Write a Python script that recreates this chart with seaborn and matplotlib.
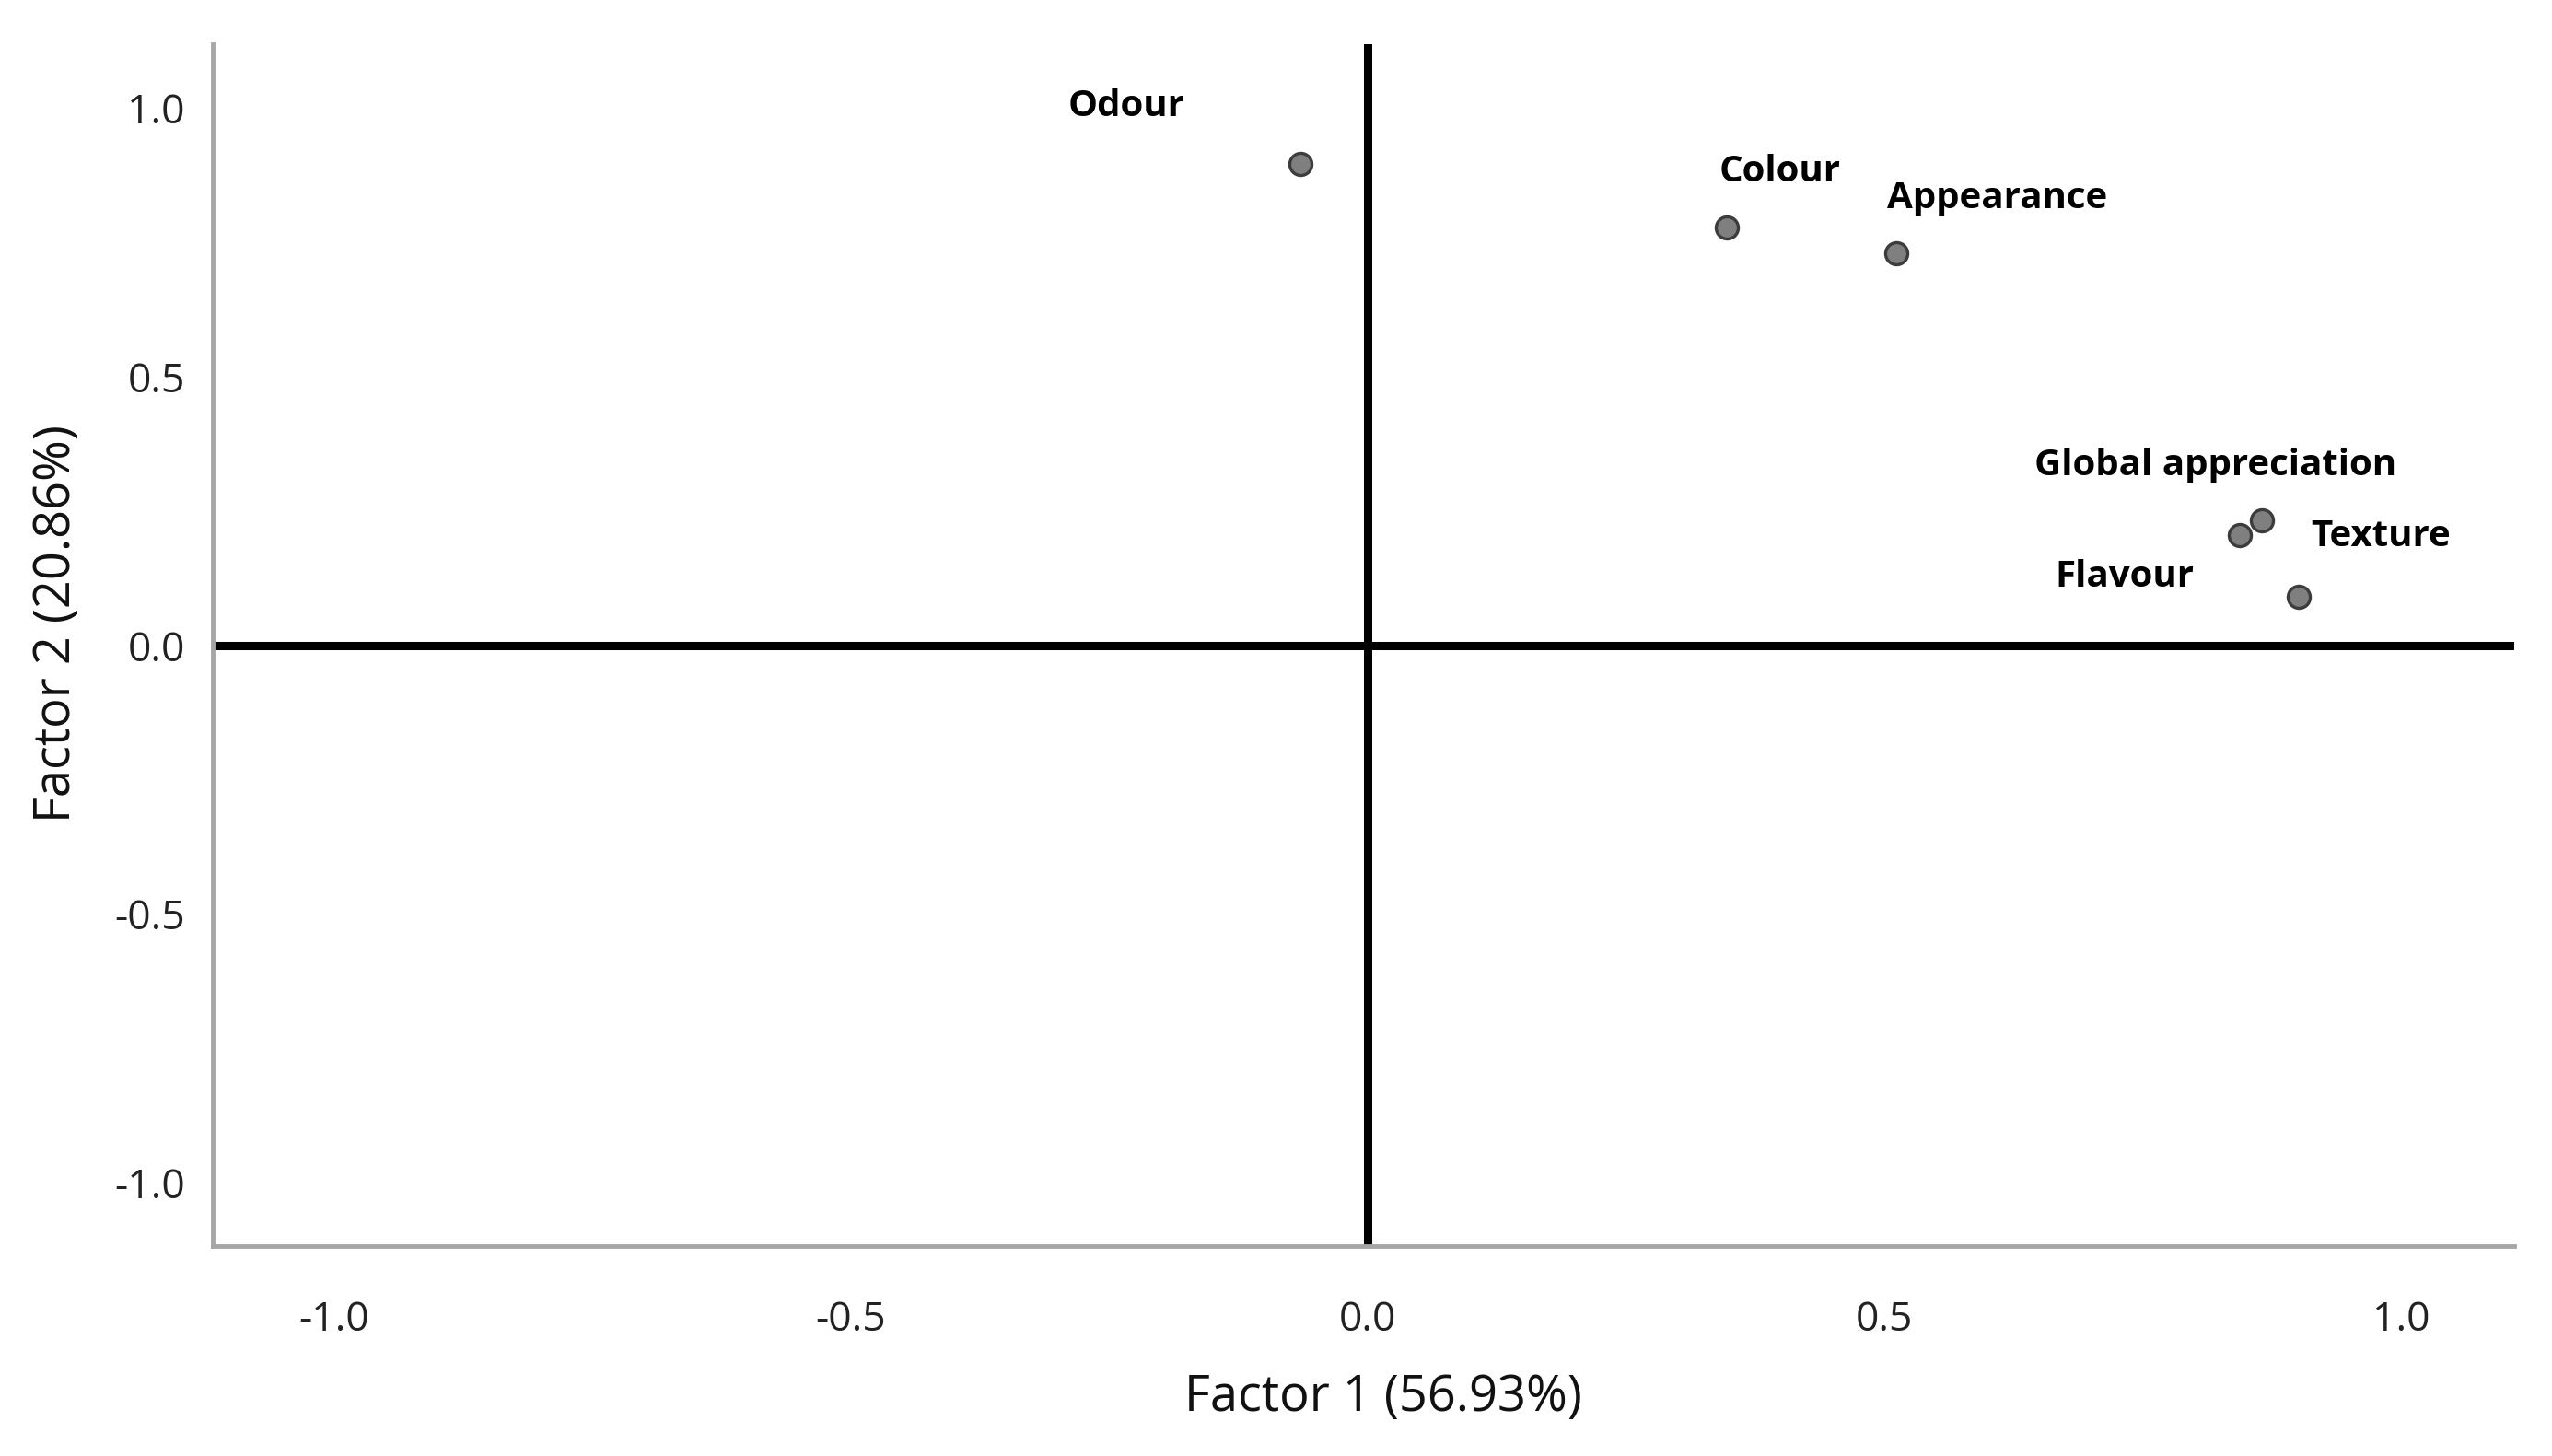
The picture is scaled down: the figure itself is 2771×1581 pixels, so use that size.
import pandas as pd
import matplotlib
matplotlib.use("Agg")
import matplotlib.pyplot as plt
import seaborn as sns

# Factor loadings
attributes = ["Odour", "Colour", "Appearance", "Global appreciation", "Flavour", "Texture"]
factor1 = [-0.065, 0.348, 0.512, 0.866, 0.844, 0.901]
factor2 = [0.897, 0.779, 0.730, 0.233, 0.206, 0.091]

ticks = [-1.0, -0.5, 0.0, 0.5, 1.0]
tick_labels = ["-1.0", "-0.5", "0.0", "0.5", "1.0"]

# label offsets (points) relative to each marker
label_offsets = {
    "Odour": (-136, 45),
    "Colour": (41, 43),
    "Appearance": (79, 43),
    "Global appreciation": (-37, 43),
    "Flavour": (-90, -33),
    "Texture": (64, 47),
}

df = pd.DataFrame({"attribute": attributes, "f1": factor1, "f2": factor2})

sns.set_theme(style="white")
plt.rcParams["font.family"] = ["Open Sans", "DejaVu Sans"]

fig = plt.figure(figsize=(27.71, 15.81), dpi=100)
ax = fig.add_axes([0.0835, 0.1441, 0.9018, 0.8257])

ax.axhline(0, color="black", lw=6.5, zorder=1)
ax.axvline(0, color="black", lw=6.5, zorder=1)

sns.scatterplot(
    data=df, x="f1", y="f2", ax=ax,
    s=300, color="#7f7f7f", edgecolor="#3c3c3c", linewidth=2.4, zorder=3,
)

for _, row in df.iterrows():
    ax.annotate(
        row["attribute"], (row["f1"], row["f2"]),
        xytext=label_offsets[row["attribute"]], textcoords="offset points",
        ha="center", va="center", fontsize=29, fontweight="bold", color="black",
    )

ax.set_xlim(-1.117, 1.11)
ax.set_ylim(-1.118, 1.12)
ax.set_xticks(ticks)
ax.set_xticklabels(tick_labels)
ax.set_yticks(ticks)
ax.set_yticklabels(tick_labels)
ax.tick_params(axis="x", length=0, pad=42, labelsize=32, labelcolor="#222222")
ax.tick_params(axis="y", length=0, pad=22, labelsize=32, labelcolor="#222222")

ax.set_xlabel("Factor 1 (56.93%)", fontsize=39, color="#111111")
ax.set_ylabel("Factor 2 (20.86%)", fontsize=39, color="#111111")
ax.xaxis.set_label_coords(0.5085, -0.105)
ax.yaxis.set_label_coords(-0.057, 0.518)

sns.despine(ax=ax)
for side in ["left", "bottom"]:
    ax.spines[side].set_color("#a6a6a6")
    ax.spines[side].set_linewidth(3.5)

fig.savefig("out.png", dpi=100)
